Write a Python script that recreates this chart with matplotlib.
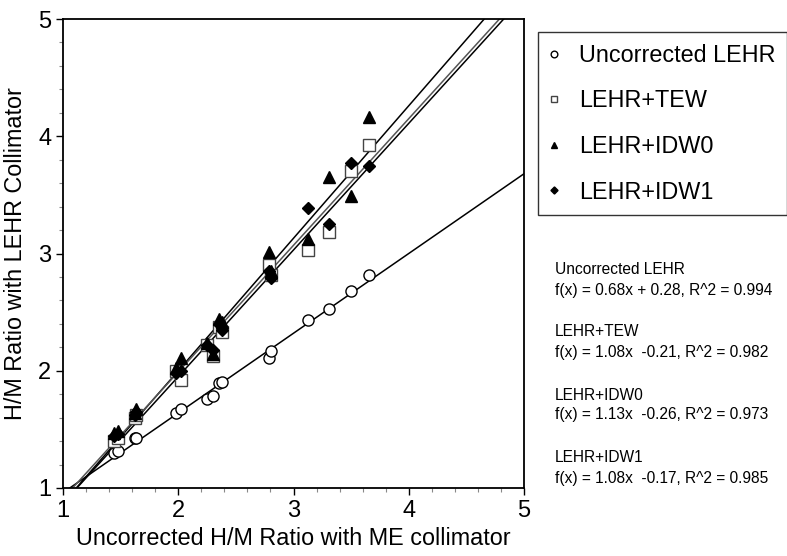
import numpy as np
import matplotlib
matplotlib.use('Agg')
import matplotlib.pyplot as plt
from matplotlib.ticker import MultipleLocator
from matplotlib.lines import Line2D

plt.rcParams['font.family'] = ['Liberation Sans', 'DejaVu Sans']

# H/M ratio with ME collimator (x) and with LEHR collimator (y), per series
x_me = [1.445, 1.48, 1.625, 1.63, 1.978, 2.024, 2.252, 2.304, 2.354, 2.377,
        2.787, 2.805, 3.13, 3.31, 3.497, 3.655]
y_uncorr = [1.296, 1.316, 1.424, 1.43, 1.637, 1.671, 1.762, 1.785, 1.898, 1.907,
            2.111, 2.166, 2.433, 2.53, 2.68, 2.814]
y_tew = [1.40, 1.43, 1.60, 1.62, 2.00, 1.92, 2.22, 2.13, 2.37, 2.33,
         2.90, 2.82, 3.03, 3.18, 3.70, 3.925]
y_idw0 = [1.47, 1.49, 1.64, 1.67, 2.02, 2.11, 2.24, 2.14, 2.44, 2.42,
          3.01, 2.85, 3.12, 3.65, 3.49, 4.167]
y_idw1 = [1.44, 1.46, 1.62, 1.65, 1.98, 2.00, 2.22, 2.18, 2.40, 2.35,
          2.85, 2.79, 3.385, 3.25, 3.77, 3.746]

names = ['Uncorrected LEHR', 'LEHR+TEW', 'LEHR+IDW0', 'LEHR+IDW1']
slopes = [0.68, 1.08, 1.13, 1.08]
intercepts = [0.28, -0.21, -0.26, -0.17]
eq_text = ['f(x) = 0.68x + 0.28, R^2 = 0.994',
           'f(x) = 1.08x  -0.21, R^2 = 0.982',
           'f(x) = 1.13x  -0.26, R^2 = 0.973',
           'f(x) = 1.08x  -0.17, R^2 = 0.985']

fig = plt.figure(figsize=(7.87, 5.56), dpi=100)
ax = fig.add_axes([63/787, 1-488/556, (524-63)/787, (488-19)/556])

series = [y_uncorr, y_tew, y_idw0, y_idw1]
styles = [dict(marker='o', mfc='white', mec='black', ms=8),
          dict(marker='s', mfc='white', mec='#444444', ms=8),
          dict(marker='^', mfc='black', mec='black', ms=8),
          dict(marker='D', mfc='black', mec='black', ms=6)]
line_cols = ['black', 'black', 'black', '#555555']

xx = np.array([1.0, 5.0])
for i in range(4):
    ax.plot(xx, slopes[i]*xx + intercepts[i], color=line_cols[i], lw=1.1, zorder=2)
for i in range(4):
    ax.plot(x_me, series[i], linestyle='none', zorder=3, **styles[i])

ax.set_xlim(1, 5)
ax.set_ylim(1, 5)
ax.xaxis.set_major_locator(MultipleLocator(1))
ax.yaxis.set_major_locator(MultipleLocator(1))
ax.xaxis.set_minor_locator(MultipleLocator(0.2))
ax.yaxis.set_minor_locator(MultipleLocator(0.2))
ax.tick_params(which='major', direction='out', length=5, width=1, labelsize=17, colors='black')
ax.tick_params(which='minor', direction='out', length=3, width=0.8, color='#888888')
for s in ax.spines.values():
    s.set_linewidth(1.3)

ax.set_xlabel('Uncorrected H/M Ratio with ME collimator', fontsize=16.8, labelpad=4)
ax.set_ylabel('H/M Ratio with LEHR Collimator', fontsize=16.8, labelpad=8)

handles = []
for i in range(4):
    handles.append(Line2D([], [], linestyle='none', **styles[i]))
leg = fig.legend(handles, names, loc='upper left',
                 bbox_to_anchor=(538/787, 1-32/556), fontsize=16.8,
                 markerscale=0.6, frameon=True, fancybox=False,
                 edgecolor='black', labelspacing=0.97, handlelength=0.4,
                 handletextpad=0.85, borderpad=0.5, borderaxespad=0)
leg.get_frame().set_linewidth(1.0)

ys = [270, 332, 395, 458]
for i in range(4):
    fig.text(555/787, 1-ys[i]/556, names[i], fontsize=11.2, va='center', ha='left')
    fig.text(555/787, 1-(ys[i]+20)/556, eq_text[i], fontsize=11.2, va='center', ha='left')

fig.savefig('out.png', dpi=100)
